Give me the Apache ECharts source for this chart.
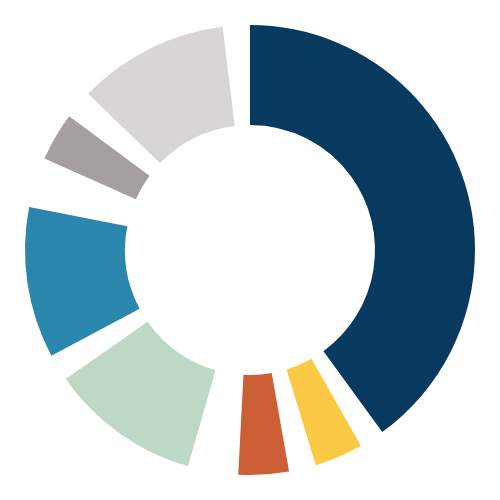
<!DOCTYPE html>
<html lang="en">
<head>
    <meta charset="UTF-8">
    <title>Donut</title>
    <script src="https://cdn.jsdelivr.net/npm/echarts@6/dist/echarts.min.js"></script>
    <style>
        html, body { margin: 0; padding: 0; background: #fff; }
        #main { width: 500px; height: 500px; }
    </style>
</head>
<body>
    <div id="main"></div>
    <script>
        // slices clockwise from 12 o'clock (values read as degrees of the ring)
        const names = ['Dark blue', 'Yellow', 'Orange', 'Mint', 'Teal', 'Gray', 'Light gray'];
        const values = [144, 12.5, 13, 39, 39, 12.5, 39];
        // empty space that follows each slice
        const gaps = [6.5, 7, 13, 7, 13, 7.5, 7];
        const colors = ['#083a5f', '#fbc943', '#cc5f36', '#bdd8c5', '#2b86ad', '#a59f9f', '#d8d5d6'];

        const data = [];
        names.forEach((n, i) => {
            data.push({ name: n, value: values[i], itemStyle: { color: colors[i] } });
            data.push({
                name: 'gap' + i, value: gaps[i],
                itemStyle: { color: 'rgba(0,0,0,0)' },
                emphasis: { disabled: true }, tooltip: { show: false }
            });
        });

        const chart = echarts.init(document.getElementById('main'));
        chart.setOption({
            animation: false,
            series: [{
                type: 'pie',
                center: [250, 250],
                radius: [125, 225],
                startAngle: 90,
                clockwise: true,
                avoidLabelOverlap: false,
                label: { show: false },
                labelLine: { show: false },
                itemStyle: { borderWidth: 0 },
                data: data
            }]
        });
    </script>
</body>
</html>
